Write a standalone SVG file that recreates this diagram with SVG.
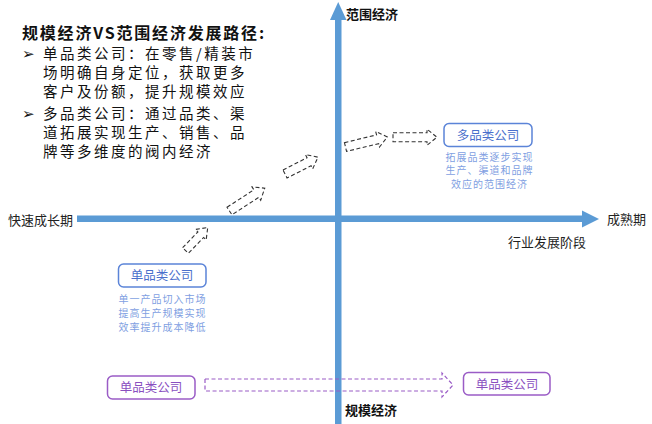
<svg xmlns="http://www.w3.org/2000/svg" width="652" height="424" viewBox="0 0 652 424">
<style>
text{font-family:"Noto Sans CJK SC","Noto Sans",sans-serif;}
.t{font-size:14.5px;fill:#111;letter-spacing:2.5px;}
.ax{font-size:13px;fill:#222;}
.axb{font-size:13px;fill:#111;font-weight:bold;}
.bn rect{fill:#fff;stroke:#5b84d8;stroke-width:1.5;}
.bn text{font-size:12.5px;fill:#4a6fcc;text-anchor:middle;}
.pn rect{fill:#fff;stroke:#9a5cc6;stroke-width:1.5;}
.pn text{font-size:12.5px;fill:#8a4fbf;text-anchor:middle;}
.bn text.desc{font-size:10px;fill:#7f9fe2;letter-spacing:1px;}
.da{fill:none;stroke:#333;stroke-width:1.1;stroke-dasharray:4 2.5;}
.dp{fill:none;stroke:#9a5cc6;stroke-width:1.2;stroke-dasharray:4 2.5;}
</style>
<rect width="652" height="424" fill="#fff"/>
<g id="axes">
<rect x="77" y="215.5" width="507" height="6.5" fill="#5b9bd5"/>
<polygon points="582,210.5 599,219 582,227.5" fill="#5b9bd5"/>
<rect x="335" y="18" width="6.5" height="406" fill="#5b9bd5"/>
<polygon points="330,20 338.2,2 346.5,20" fill="#5b9bd5"/>
</g>
<g id="axis-labels">
<text class="axb" x="346" y="18.5">范围经济</text>
<text class="axb" x="345" y="414.5">规模经济</text>
<text class="ax" x="8" y="224.5">快速成长期</text>
<text class="ax" x="607" y="223.5">成熟期</text>
<text class="ax" x="508" y="246.5">行业发展阶段</text>
</g>
<g id="title-text">
<text x="22" y="38.5" font-size="16" font-weight="bold" letter-spacing="1.8" fill="#111">规模经济VS范围经济发展路径:</text>
<text class="t" x="22" y="59"><tspan font-family="DejaVu Sans" font-size="15">➢</tspan></text>
<text class="t" x="43" y="59">单品类公司：在零售/精装市</text>
<text class="t" x="43" y="78">场明确自身定位，获取更多</text>
<text class="t" x="43" y="97">客户及份额，提升规模效应</text>
<text class="t" x="22" y="119"><tspan font-family="DejaVu Sans" font-size="15">➢</tspan></text>
<text class="t" x="43" y="119">多品类公司：通过品类、渠</text>
<text class="t" x="43" y="138">道拓展实现生产、销售、品</text>
<text class="t" x="43" y="157">牌等多维度的阀内经济</text>
</g>
<g id="connectors">
<path class="da" transform="translate(185.5,250.5) rotate(-46)" d="M0,-4 L22,-4 L22,-7.5 L32,0 L22,7.5 L22,4 L0,4 Z"/>
<path class="da" transform="translate(229.5,211) rotate(-33)" d="M0,-4.5 L32,-4.5 L32,-8 L42,0 L32,8 L32,4.5 L0,4.5 Z"/>
<path class="da" transform="translate(285,174) rotate(-27)" d="M0,-4.5 L27,-4.5 L27,-8 L37,0 L27,8 L27,4.5 L0,4.5 Z"/>
<path class="da" transform="translate(345.5,147) rotate(-13.5)" d="M0,-4.5 L33,-4.5 L33,-8 L43,0 L33,8 L33,4.5 L0,4.5 Z"/>
<path class="da" transform="translate(393,137.2)" d="M0,-4.5 L34,-4.5 L34,-8 L44,0 L34,8 L34,4.5 L0,4.5 Z"/>
<path class="dp" d="M205,379 L442,379 L442,373 L453,385 L442,397 L442,391 L205,391 Z"/>
</g>
<g id="node-multi" class="bn">
<rect x="444" y="123.5" width="88" height="23" rx="5"/>
<text x="488" y="139.5">多品类公司</text>
<text class="desc" x="489.5" y="160.5">拓展品类逐步实现</text>
<text class="desc" x="489.5" y="174">生产、渠道和品牌</text>
<text class="desc" x="489.5" y="187.5">效应的范围经济</text>
</g>
<g id="node-single" class="bn">
<rect x="118.5" y="264" width="87.5" height="23" rx="5"/>
<text x="162" y="280">单品类公司</text>
<text class="desc" x="162.5" y="302.5">单一产品切入市场</text>
<text class="desc" x="162.5" y="316.5">提高生产规模实现</text>
<text class="desc" x="162.5" y="330.5">效率提升成本降低</text>
</g>
<g id="node-single-left" class="pn">
<rect x="107.5" y="376" width="87.5" height="23" rx="5"/>
<text x="151" y="392">单品类公司</text>
</g>
<g id="node-single-right" class="pn">
<rect x="463.5" y="372.5" width="86.5" height="22.5" rx="5"/>
<text x="507" y="388.5">单品类公司</text>
</g>
</svg>
